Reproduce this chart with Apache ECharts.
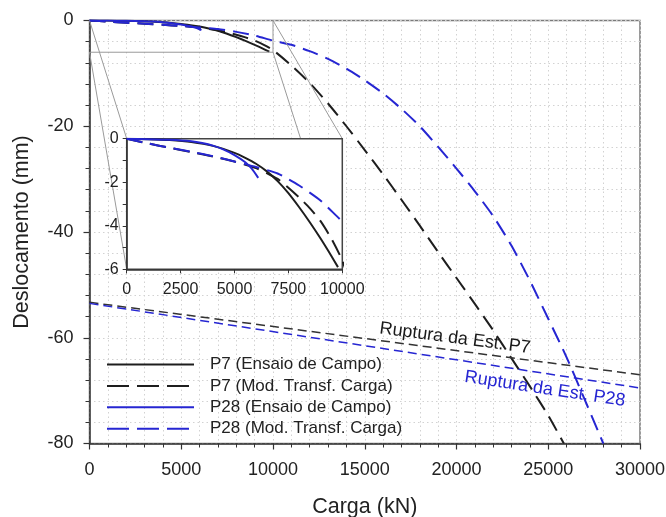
<!DOCTYPE html>
<html>
<head>
<meta charset="utf-8">
<script src="https://cdn.jsdelivr.net/npm/echarts@6/dist/echarts.min.js"></script>
<style>
html, body { margin: 0; padding: 0; background: #fff; }
#chart { width: 666px; height: 517px; }
</style>
</head>
<body>
<div id="chart"></div>
<script>
// load (kN) / displacement (mm)
const p7CampoLoad = [0, 1000, 2000, 3000, 4000, 5000, 5500, 6000, 6500, 7000, 7500, 8000, 8500, 9000, 9500, 9800];
const p7CampoDisp = [0, -0.02, -0.06, -0.15, -0.33, -0.65, -0.88, -1.15, -1.5, -1.95, -2.5, -3.15, -3.85, -4.6, -5.4, -5.9];

const p28CampoLoad = [0, 1000, 2000, 3000, 3500, 4000, 4500, 5000, 5500, 5800, 6100];
const p28CampoDisp = [0, -0.02, -0.05, -0.12, -0.2, -0.32, -0.5, -0.75, -1.08, -1.38, -1.8];

const p7ModLoad = [0, 1000, 2000, 3000, 4000, 5000, 6000, 7000, 7500, 8000, 8500, 9000, 9500, 10000, 11000, 12000, 13000, 14000, 15000, 16000, 17000, 18000, 19000, 20000, 21000, 22000, 23000, 24000, 25000, 25850];
const p7ModDisp = [0, -0.22, -0.42, -0.62, -0.82, -1.05, -1.35, -1.85, -2.25, -2.7, -3.2, -3.8, -4.6, -5.6, -8.5, -11.8, -15.7, -20.0, -24.5, -29.1, -33.9, -38.8, -43.8, -48.7, -53.6, -58.6, -63.9, -69.2, -74.7, -80];

const p28ModLoad = [0, 1000, 2000, 3000, 4000, 5000, 6000, 7000, 8000, 9000, 10000, 11000, 12000, 13000, 14000, 15000, 16000, 17000, 18000, 19000, 20000, 21000, 22000, 23000, 24000, 25000, 26000, 27000, 28000];
const p28ModDisp = [0, -0.22, -0.42, -0.6, -0.8, -1.05, -1.3, -1.6, -2.15, -2.85, -3.8, -4.6, -5.8, -7.25, -9.1, -11.3, -13.8, -16.7, -20.0, -23.9, -28.0, -32.3, -37.0, -42.6, -49.2, -56.4, -63.7, -71.8, -80];

// "Ruptura da Estaca" straight lines
const ruptP7Load = [0, 30000];
const ruptP7Disp = [-53.3, -67.0];
const ruptP28Load = [0, 30000];
const ruptP28Disp = [-53.5, -69.5];
const ruptP7LabelAt = [19920, -60.1];
const ruptP28LabelAt = [24820, -69.7];

// zoomed window shown in the inset
const insetLoad = [0, 10000];
const insetDisp = [-6, 0];

const names = ['P7 (Ensaio de Campo)', 'P7 (Mod. Transf. Carga)', 'P28 (Ensaio de Campo)', 'P28 (Mod. Transf. Carga)'];

const BLACK = '#1e1e1e';
const BLUE = '#2626d2';
const FONT = '"Liberation Sans", Arial, sans-serif';

function pairs(xs, ys) {
    return xs.map((x, i) => [x, ys[i]]);
}

function curve(name, xs, ys, color, dashed, gi, z) {
    return {
        name: name,
        type: 'line',
        xAxisIndex: gi,
        yAxisIndex: gi,
        data: pairs(xs, ys),
        symbol: 'none',
        smooth: 0.2,
        z: z,
        lineStyle: { color: color, width: 2, type: dashed ? [16, 8] : 'solid' },
        itemStyle: { color: color }
    };
}

const plain = v => String(v);
const gridDot = { color: '#d2d2d2', width: 1, type: [1.5, 3] };

const chartDom = document.getElementById('chart');
const myChart = echarts.init(chartDom);

const option = {
    animation: false,
    textStyle: { fontFamily: FONT },
    grid: [
        {
            left: 89.5, top: 20.5, right: 26, bottom: 73.5,
            outerBoundsMode: 'none', containLabel: false,
            show: true, borderColor: '#7a7a7a', borderWidth: 1.5
        },
        {
            left: 126.7, top: 138.7, right: 323.7, bottom: 247.7,
            outerBoundsMode: 'none', containLabel: false,
            show: true, backgroundColor: '#fff', borderColor: '#444', borderWidth: 1.5,
            z: 5
        }
    ],
    xAxis: [
        {
            gridIndex: 0, type: 'value', min: 0, max: 30000, interval: 5000,
            name: 'Carga (kN)', nameLocation: 'middle', nameGap: 53,
            nameTextStyle: { fontSize: 21.5, color: '#222', fontFamily: FONT },
            axisLine: { show: true, onZero: false, lineStyle: { color: '#333', width: 1.5 } },
            axisTick: { show: true, length: 6, lineStyle: { color: '#333', width: 1.2 } },
            minorTick: { show: true, splitNumber: 5, length: 4, lineStyle: { color: '#333', width: 1 } },
            splitLine: { show: true, lineStyle: gridDot },
            minorSplitLine: { show: true, lineStyle: gridDot },
            axisLabel: { fontSize: 18, color: '#222', margin: 18, showMaxLabel: true, formatter: plain }
        },
        {
            gridIndex: 1, type: 'value', min: insetLoad[0], max: insetLoad[1], interval: 2500, z: 6,
            axisLine: { show: true, onZero: false, lineStyle: { color: '#333', width: 1.5 } },
            axisTick: { show: true, length: 4, lineStyle: { color: '#333' } },
            splitLine: { show: false },
            axisLabel: { fontSize: 16, color: '#222', margin: 12, showMaxLabel: true, formatter: plain }
        }
    ],
    yAxis: [
        {
            gridIndex: 0, type: 'value', min: -80, max: 0, interval: 20,
            name: 'Deslocamento (mm)', nameLocation: 'middle', nameGap: 56,
            nameTextStyle: { fontSize: 21.5, color: '#222', fontFamily: FONT },
            axisLine: { show: true, onZero: false, lineStyle: { color: '#333', width: 1.5 } },
            axisTick: { show: true, length: 6, lineStyle: { color: '#333', width: 1.2 } },
            minorTick: { show: true, splitNumber: 5, length: 4, lineStyle: { color: '#333', width: 1 } },
            splitLine: { show: true, lineStyle: gridDot },
            minorSplitLine: { show: true, lineStyle: gridDot },
            axisLabel: { fontSize: 18, color: '#222', margin: 16, formatter: plain }
        },
        {
            gridIndex: 1, type: 'value', min: insetDisp[0], max: insetDisp[1], interval: 2, z: 6,
            axisLine: { show: true, onZero: false, lineStyle: { color: '#333', width: 1.5 } },
            axisTick: { show: true, length: 4, lineStyle: { color: '#333' } },
            minorTick: { show: true, splitNumber: 2, length: 4, lineStyle: { color: '#333' } },
            splitLine: { show: false },
            axisLabel: { fontSize: 16, color: '#222', margin: 8, formatter: plain }
        }
    ],
    legend: {
        orient: 'vertical', left: 101, top: 351,
        itemWidth: 87, itemHeight: 12, itemGap: 4.4,
        itemStyle: { color: 'rgba(0,0,0,0)', borderWidth: 0, opacity: 0 },
        textStyle: { fontSize: 17, color: '#222', padding: [0, 0, 0, 11], fontFamily: FONT },
        data: [
            { name: names[0], lineStyle: { type: 'solid' } },
            { name: names[1], lineStyle: { type: [22, 8] } },
            { name: names[2], lineStyle: { type: 'solid' } },
            { name: names[3], lineStyle: { type: [22, 8] } }
        ],
        selectedMode: false
    },
    series: [
        // zoom window box on the main plot
        {
            type: 'line', xAxisIndex: 0, yAxisIndex: 0, symbol: 'none', silent: true, z: 3,
            data: [[insetLoad[0], insetDisp[0]], [insetLoad[1], insetDisp[0]], [insetLoad[1], insetDisp[1]]],
            lineStyle: { color: '#999', width: 1 }
        },
        curve(names[0], p7CampoLoad, p7CampoDisp, BLACK, false, 0, 2),
        curve(names[1], p7ModLoad, p7ModDisp, BLACK, true, 0, 2),
        curve(names[2], p28CampoLoad, p28CampoDisp, BLUE, false, 0, 2),
        curve(names[3], p28ModLoad, p28ModDisp, BLUE, true, 0, 2),
        {
            type: 'line', xAxisIndex: 0, yAxisIndex: 0, symbol: 'none', silent: true, z: 2,
            data: pairs(ruptP7Load, ruptP7Disp),
            lineStyle: { color: '#333', width: 1.5, type: [9, 5] }
        },
        {
            type: 'line', xAxisIndex: 0, yAxisIndex: 0, symbol: 'none', silent: true, z: 2,
            data: pairs(ruptP28Load, ruptP28Disp),
            lineStyle: { color: BLUE, width: 1.5, type: [9, 5] }
        },
        {
            type: 'scatter', xAxisIndex: 0, yAxisIndex: 0, symbolSize: 0, silent: true, z: 4,
            itemStyle: { opacity: 1 },
            data: [ruptP7LabelAt],
            label: { show: true, position: 'inside', formatter: 'Ruptura da Est. P7', rotate: -7.5, fontSize: 18, color: '#1a1a1a', fontFamily: FONT }
        },
        {
            type: 'scatter', xAxisIndex: 0, yAxisIndex: 0, symbolSize: 0, silent: true, z: 4,
            itemStyle: { opacity: 1 },
            data: [ruptP28LabelAt],
            label: { show: true, position: 'inside', formatter: 'Ruptura da Est. P28', rotate: -8.6, fontSize: 18, color: BLUE, fontFamily: FONT }
        },
        // inset
        curve(names[0], p7CampoLoad, p7CampoDisp, BLACK, false, 1, 7),
        curve(names[1], p7ModLoad, p7ModDisp, BLACK, true, 1, 7),
        curve(names[2], p28CampoLoad, p28CampoDisp, BLUE, false, 1, 7),
        curve(names[3], p28ModLoad, p28ModDisp, BLUE, true, 1, 7)
    ]
};

myChart.setOption(option);

// connector lines from the zoom box corners to the inset corners
const corners = [
    [insetLoad[0], insetDisp[1]],
    [insetLoad[0], insetDisp[0]],
    [insetLoad[1], insetDisp[1]],
    [insetLoad[1], insetDisp[0]]
];
const connectors = corners.map(c => {
    const a = myChart.convertToPixel({ gridIndex: 0 }, c);
    const b = myChart.convertToPixel({ gridIndex: 1 }, c);
    return {
        type: 'line', silent: true, z: 3,
        shape: { x1: a[0], y1: a[1], x2: b[0], y2: b[1] },
        style: { stroke: '#9a9a9a', lineWidth: 1 }
    };
});
myChart.setOption({ graphic: connectors });
</script>
</body>
</html>
